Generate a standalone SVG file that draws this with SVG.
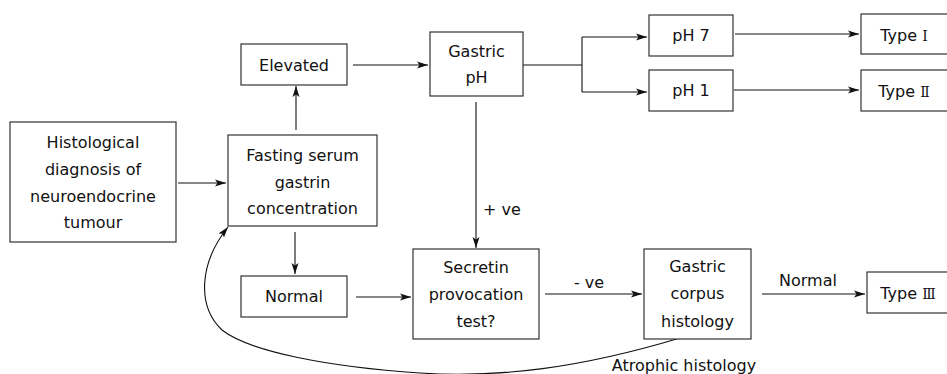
<svg xmlns="http://www.w3.org/2000/svg" width="947" height="374" viewBox="0 0 947 374">
<defs>
<marker id="ah" markerUnits="userSpaceOnUse" markerWidth="12" markerHeight="8" refX="11" refY="4" orient="auto">
<path d="M0,0.5 L11,4 L0,7.5 L2.5,4 z" fill="#111"/>
</marker>
<style>
.box{fill:#fff;stroke:#333;stroke-width:1.2}
.t{font-family:"DejaVu Sans","Noto Sans",sans-serif;font-size:16px;fill:#111;text-anchor:middle}
.l{font-family:"DejaVu Sans","Noto Sans",sans-serif;font-size:16px;fill:#111}
.rn{font-family:"DejaVu Serif","Liberation Serif",serif;font-size:14px}
.c{fill:none;stroke:#111;stroke-width:1.1}
.a{marker-end:url(#ah)}
</style>
</defs>
<g id="connectors">
<path class="c a" d="M178,183 H226"/>
<path class="c a" d="M296,130 V86"/>
<path class="c a" d="M353,65 H428"/>
<path class="c" d="M523,65 H582 M582,37 V92"/>
<path class="c a" d="M582,37 H647"/>
<path class="c a" d="M582,92 H647"/>
<path class="c a" d="M735,34 H859"/>
<path class="c a" d="M734,90 H859"/>
<path class="c a" d="M476,102 V248"/>
<path class="c a" d="M295,232 V274"/>
<path class="c a" d="M356,297 H411"/>
<path class="c a" d="M545,294 H642"/>
<path class="c a" d="M762,294 H865"/>
<path class="c a" d="M680,338 C580,368 500,378 420,373 C330,367 250,352 222,330 C196,305 200,262 228,227"/>
<text class="l" x="483" y="215">+ ve</text>
<text class="t" x="589" y="288">- ve</text>
<text class="t" x="808" y="286">Normal</text>
<text class="t" x="684" y="371">Atrophic histology</text>
</g>
<g id="histological">
<rect class="box" x="10" y="122" width="166" height="120"/>
<text class="t" x="93" y="148">Histological</text>
<text class="t" x="93" y="175">diagnosis of</text>
<text class="t" x="93" y="202">neuroendocrine</text>
<text class="t" x="93" y="228">tumour</text>
</g>
<g id="fasting">
<rect class="box" x="228" y="135" width="149" height="91"/>
<text class="t" x="302.5" y="161">Fasting serum</text>
<text class="t" x="302.5" y="188">gastrin</text>
<text class="t" x="302.5" y="214">concentration</text>
</g>
<g id="elevated">
<rect class="box" x="241" y="44" width="106" height="41"/>
<text class="t" x="294" y="70.5">Elevated</text>
</g>
<g id="gastric-ph">
<rect class="box" x="430" y="32" width="93" height="64"/>
<text class="t" x="476.5" y="57">Gastric</text>
<text class="t" x="476.5" y="83">pH</text>
</g>
<g id="ph7">
<rect class="box" x="649" y="15" width="84" height="41"/>
<text class="t" x="691" y="41">pH 7</text>
</g>
<g id="ph1">
<rect class="box" x="649" y="70" width="84" height="41"/>
<text class="t" x="691" y="96">pH 1</text>
</g>
<g id="type1">
<rect class="box" x="861" y="14" width="95" height="40"/>
<text class="t" x="904" y="41">Type <tspan class="rn">Ⅰ</tspan></text>
</g>
<g id="type2">
<rect class="box" x="861" y="70" width="95" height="41"/>
<text class="t" x="904" y="97">Type <tspan class="rn">Ⅱ</tspan></text>
</g>
<g id="normal">
<rect class="box" x="241" y="276" width="106" height="41"/>
<text class="t" x="294" y="302">Normal</text>
</g>
<g id="secretin">
<rect class="box" x="413" y="249" width="126" height="90"/>
<text class="t" x="476" y="273">Secretin</text>
<text class="t" x="476" y="300">provocation</text>
<text class="t" x="476" y="327">test?</text>
</g>
<g id="corpus">
<rect class="box" x="644" y="249" width="107" height="90"/>
<text class="t" x="697.5" y="272">Gastric</text>
<text class="t" x="697.5" y="299">corpus</text>
<text class="t" x="697.5" y="327">histology</text>
</g>
<g id="type3">
<rect class="box" x="867" y="272" width="95" height="41"/>
<text class="t" x="908" y="299">Type <tspan class="rn">Ⅲ</tspan></text>
</g>
</svg>
